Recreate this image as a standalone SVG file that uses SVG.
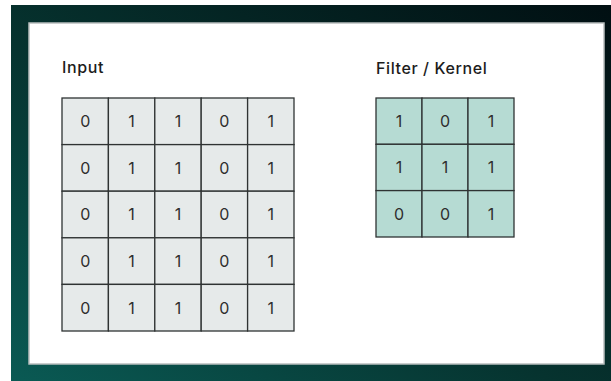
<svg xmlns="http://www.w3.org/2000/svg" width="611" height="381" viewBox="0 0 611 381">
  <defs>
    <linearGradient id="bg" x1="0" y1="1" x2="1" y2="0">
      <stop offset="0" stop-color="#0a5a54"/>
      <stop offset="0.45" stop-color="#06332f"/>
      <stop offset="1" stop-color="#010f12"/>
    </linearGradient>
  </defs>
  <style>
    .title { font-family: Inter, "Open Sans", "Liberation Sans", sans-serif; font-weight: 500; font-size: 16px; letter-spacing: 0.6px; fill: #1c1c1c; }
    .num { font-family: Inter, "Open Sans", "Liberation Sans", sans-serif; font-weight: 400; font-size: 16px; fill: #2e2e2e; text-anchor: middle; }
    .in { fill: #e6eaea; stroke: #2f3333; stroke-width: 1.3; }
    .k { fill: #b6dbd3; stroke: #2f3333; stroke-width: 1.3; }
  </style>
  <rect x="0" y="0" width="611" height="381" fill="#ffffff"/>
  <rect x="11" y="5" width="600" height="376" fill="url(#bg)"/>
  <g id="card">
    <rect x="29" y="23" width="575" height="341" fill="#ffffff" stroke="#b9bebe" stroke-width="1.5"/>
  </g>
  <g id="input">
    <text class="title" x="62" y="73">Input</text>
    <g id="input-grid">
      <rect class="in" x="62" y="98" width="46.4" height="46.6"/><rect class="in" x="108.4" y="98" width="46.4" height="46.6"/><rect class="in" x="154.8" y="98" width="46.4" height="46.6"/><rect class="in" x="201.2" y="98" width="46.4" height="46.6"/><rect class="in" x="247.6" y="98" width="46.4" height="46.6"/>
      <rect class="in" x="62" y="144.6" width="46.4" height="46.6"/><rect class="in" x="108.4" y="144.6" width="46.4" height="46.6"/><rect class="in" x="154.8" y="144.6" width="46.4" height="46.6"/><rect class="in" x="201.2" y="144.6" width="46.4" height="46.6"/><rect class="in" x="247.6" y="144.6" width="46.4" height="46.6"/>
      <rect class="in" x="62" y="191.2" width="46.4" height="46.6"/><rect class="in" x="108.4" y="191.2" width="46.4" height="46.6"/><rect class="in" x="154.8" y="191.2" width="46.4" height="46.6"/><rect class="in" x="201.2" y="191.2" width="46.4" height="46.6"/><rect class="in" x="247.6" y="191.2" width="46.4" height="46.6"/>
      <rect class="in" x="62" y="237.8" width="46.4" height="46.6"/><rect class="in" x="108.4" y="237.8" width="46.4" height="46.6"/><rect class="in" x="154.8" y="237.8" width="46.4" height="46.6"/><rect class="in" x="201.2" y="237.8" width="46.4" height="46.6"/><rect class="in" x="247.6" y="237.8" width="46.4" height="46.6"/>
      <rect class="in" x="62" y="284.4" width="46.4" height="46.6"/><rect class="in" x="108.4" y="284.4" width="46.4" height="46.6"/><rect class="in" x="154.8" y="284.4" width="46.4" height="46.6"/><rect class="in" x="201.2" y="284.4" width="46.4" height="46.6"/><rect class="in" x="247.6" y="284.4" width="46.4" height="46.6"/>
      <text class="num" x="85.2" y="127.2">0</text><text class="num" x="131.6" y="127.2">1</text><text class="num" x="178" y="127.2">1</text><text class="num" x="224.4" y="127.2">0</text><text class="num" x="270.8" y="127.2">1</text>
      <text class="num" x="85.2" y="173.8">0</text><text class="num" x="131.6" y="173.8">1</text><text class="num" x="178" y="173.8">1</text><text class="num" x="224.4" y="173.8">0</text><text class="num" x="270.8" y="173.8">1</text>
      <text class="num" x="85.2" y="220.4">0</text><text class="num" x="131.6" y="220.4">1</text><text class="num" x="178" y="220.4">1</text><text class="num" x="224.4" y="220.4">0</text><text class="num" x="270.8" y="220.4">1</text>
      <text class="num" x="85.2" y="267">0</text><text class="num" x="131.6" y="267">1</text><text class="num" x="178" y="267">1</text><text class="num" x="224.4" y="267">0</text><text class="num" x="270.8" y="267">1</text>
      <text class="num" x="85.2" y="313.6">0</text><text class="num" x="131.6" y="313.6">1</text><text class="num" x="178" y="313.6">1</text><text class="num" x="224.4" y="313.6">0</text><text class="num" x="270.8" y="313.6">1</text>
    </g>
  </g>
  <g id="kernel">
    <text class="title" x="376" y="74">Filter / Kernel</text>
    <g id="kernel-grid">
      <rect class="k" x="376" y="98" width="46" height="46.3"/><rect class="k" x="422" y="98" width="46" height="46.3"/><rect class="k" x="468" y="98" width="46" height="46.3"/>
      <rect class="k" x="376" y="144.3" width="46" height="46.3"/><rect class="k" x="422" y="144.3" width="46" height="46.3"/><rect class="k" x="468" y="144.3" width="46" height="46.3"/>
      <rect class="k" x="376" y="190.6" width="46" height="46.4"/><rect class="k" x="422" y="190.6" width="46" height="46.4"/><rect class="k" x="468" y="190.6" width="46" height="46.4"/>
      <text class="num" x="399" y="127.1">1</text><text class="num" x="445" y="127.1">0</text><text class="num" x="491" y="127.1">1</text>
      <text class="num" x="399" y="173.4">1</text><text class="num" x="445" y="173.4">1</text><text class="num" x="491" y="173.4">1</text>
      <text class="num" x="399" y="219.7">0</text><text class="num" x="445" y="219.7">0</text><text class="num" x="491" y="219.7">1</text>
    </g>
  </g>
  <g id="connectors"/>
</svg>
